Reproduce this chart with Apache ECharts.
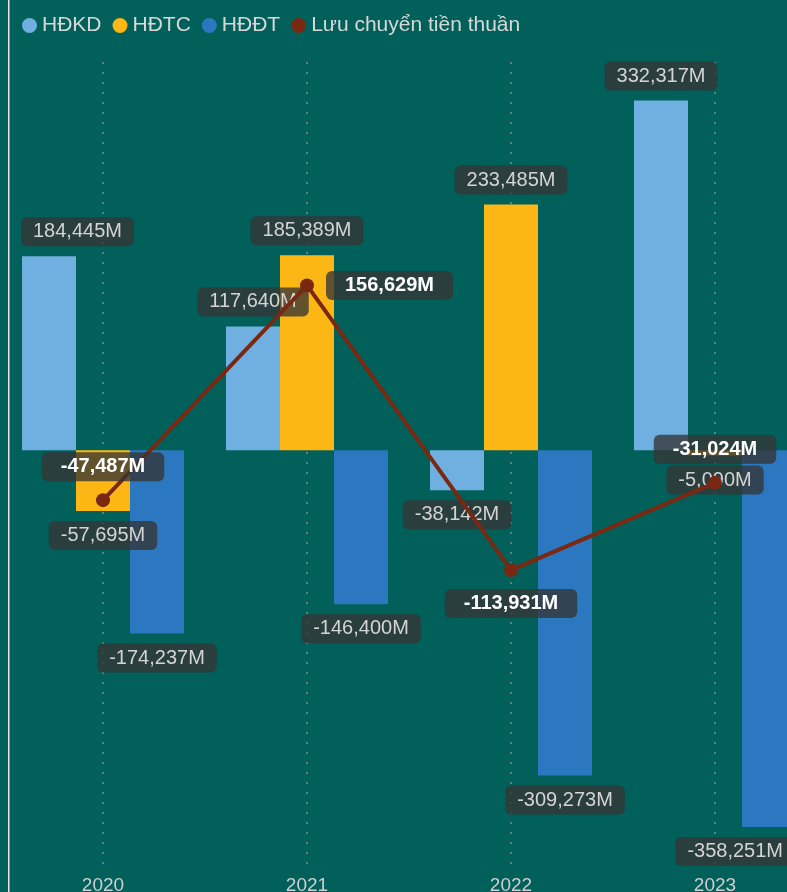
<!DOCTYPE html>
<html>
<head>
<meta charset="utf-8">
<script src="https://cdn.jsdelivr.net/npm/echarts@6/dist/echarts.min.js"></script>
<style>
html,body{margin:0;padding:0;background:#01605a;}
#chart{width:787px;height:892px;}
</style>
</head>
<body>
<div id="chart"></div>
<script>
// ---- data ----
const years = ['2020', '2021', '2022', '2023'];
const hdkd = [184445, 117640, -38142, 332317];
const hdtc = [-57695, 185389, 233485, -5090];
const hddt = [-174237, -146400, -309273, -358251];
const luuChuyen = [-47487, 156629, -113931, -31024];
const seriesNames = ['HĐKD', 'HĐTC', 'HĐĐT', 'Lưu chuyển tiền thuần'];

// ---- styles ----
const lineLabelPositions = ['top', 'right', 'bottom', 'top'];
const FONT = '"Liberation Sans", Arial, sans-serif';
function fmt(v) {
  return String(v).replace(/\B(?=(\d{3})+(?!\d))/g, ',') + 'M';
}
const barLabel = {
  show: true,
  formatter: p => fmt(p.value),
  color: '#d4d4d4',
  fontSize: 20,
  fontFamily: FONT,
  lineHeight: 21,
  backgroundColor: 'rgba(52,52,52,0.78)',
  borderRadius: 6,
  padding: [4, 12],
  distance: 10
};
function barSeries(name, data, color) {
  return {
    name: name,
    type: 'bar',
    barWidth: 54,
    barGap: '0%',
    itemStyle: { color: color },
    data: data.map(v => ({
      value: v,
      label: Object.assign({}, barLabel, { position: v >= 0 ? 'top' : 'bottom' })
    })),
    labelLayout: function (params) {
      const r = params.labelRect;
      if (r.x + r.width > 787) {
        return { x: 787 - r.width + 8, y: r.y };
      }
      if (r.x < 12) {
        return { x: 21, y: r.y };
      }
      return {};
    },
    z: 2
  };
}

const chart = echarts.init(document.getElementById('chart'), null, { renderer: 'canvas' });
chart.setOption({
  backgroundColor: '#01605a',
  animation: false,
  textStyle: { fontFamily: FONT },
  legend: {
    left: 17,
    top: 10,
    icon: 'circle',
    itemWidth: 15,
    itemHeight: 15,
    itemGap: 11,
    data: seriesNames,
    textStyle: { color: '#d8d8d8', fontSize: 21, fontFamily: FONT }
  },
  grid: { left: 1, width: 816, top: 62, height: 809, containLabel: false, outerBoundsMode: 'none' },
  xAxis: {
    type: 'category',
    data: years,
    axisLine: { show: false },
    axisTick: { show: false },
    axisLabel: { color: '#cfcfcf', fontSize: 19, fontFamily: FONT, margin: 5 },
    splitLine: {
      show: true,
      alignWithLabel: true,
      lineStyle: { color: '#7d8f8b', width: 1.5, type: [2, 8] }
    }
  },
  yAxis: {
    type: 'value',
    show: false,
    min: -400000,
    max: 369000,
    splitLine: { show: false }
  },
  graphic: [
    { type: 'rect', left: 8, top: 0, shape: { width: 1.5, height: 892 }, style: { fill: '#e6e6e6' }, z: 100 }
  ],
  series: [
    barSeries(seriesNames[0], hdkd, '#70b0e0'),
    barSeries(seriesNames[1], hdtc, '#fdb714'),
    barSeries(seriesNames[2], hddt, '#2b77c0'),
    {
      name: seriesNames[3],
      type: 'line',
      symbol: 'circle',
      symbolSize: 14,
      lineStyle: { color: '#7a2812', width: 4 },
      itemStyle: { color: '#7a2812' },
      z: 5,
      data: luuChuyen.map((v, i) => ({
        value: v,
        label: {
          show: true,
          position: lineLabelPositions[i],
          formatter: p => fmt(p.value),
          color: '#ffffff',
          fontWeight: 'bold',
          fontSize: 20,
          fontFamily: FONT,
          lineHeight: 21,
          backgroundColor: 'rgba(52,52,52,0.78)',
          borderRadius: 6,
          padding: [4, 19],
          distance: 12
        }
      }))
    }
  ]
});
</script>
</body>
</html>
